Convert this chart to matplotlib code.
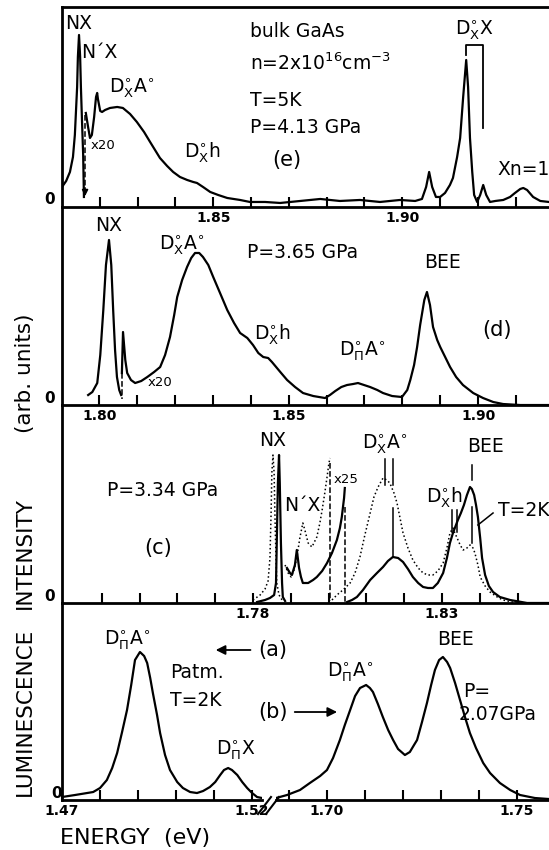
import matplotlib
matplotlib.use('Agg')
import matplotlib.pyplot as plt
from matplotlib.lines import Line2D

plt.rcParams['font.family'] = 'DejaVu Sans'
plt.rcParams['mathtext.default'] = 'regular'

# ---- panel (e): P=4.13 GPa, T=5K ----
e_nx_E = [1.8100, 1.8111, 1.8121, 1.8129, 1.8134, 1.8140, 1.8142, 1.8145, 1.8148, 1.8150, 1.8153, 1.8156, 1.8158]
e_nx_I = [20, 26, 35, 50, 72, 120, 150, 172, 150, 120, 85, 52, 10]
e_x20_E = [1.8163, 1.8169, 1.8174, 1.8179, 1.8185, 1.8190, 1.8193, 1.8195, 1.8201, 1.8206,
           1.8214, 1.8227, 1.8246, 1.8261, 1.8280, 1.8298, 1.8317, 1.8333, 1.8359, 1.8378,
           1.8394, 1.8412, 1.8431, 1.8447, 1.8457, 1.8473, 1.8492, 1.8513, 1.8537, 1.8571,
           1.8597, 1.8637, 1.8677, 1.8730, 1.8783, 1.8835, 1.8888, 1.8941, 1.8994, 1.9034,
           1.9052, 1.9063, 1.9071, 1.9079, 1.9089, 1.9100, 1.9113, 1.9126, 1.9134, 1.9145,
           1.9153, 1.9161, 1.9169, 1.9174, 1.9179, 1.9185, 1.9190, 1.9198, 1.9206, 1.9214,
           1.9222, 1.9232, 1.9246, 1.9267, 1.9285, 1.9298, 1.9312, 1.9320, 1.9330, 1.9346,
           1.9365, 1.9388]
e_x20_I = [94, 80, 69, 72, 90, 110, 114, 108, 96, 95,
           97, 99, 100, 99, 93, 85, 75, 65, 49, 41,
           35, 30, 27, 25, 24, 20, 15, 12, 9, 7,
           5, 5, 4, 6, 8, 6, 7, 5, 7, 6,
           8, 20, 35, 20, 10, 10, 14, 22, 29, 50,
           69, 110, 147, 120, 69, 35, 12, 5, 12, 22,
           12, 5, 6, 7, 10, 14, 18, 19, 17, 10,
           6, 5]

# ---- panel (d): P=3.65 GPa ----
d_nx_E = [1.7971, 1.7982, 1.7995, 1.8003, 1.8011, 1.8018, 1.8026, 1.8032, 1.8037, 1.8042, 1.8047, 1.8053, 1.8058]
d_nx_I = [10, 13, 22, 50, 95, 140, 165, 140, 95, 55, 28, 15, 10]
d_x20_E = [1.8060, 1.8063, 1.8069, 1.8074, 1.8084, 1.8095, 1.8111, 1.8127, 1.8145, 1.8161, 1.8174,
           1.8187, 1.8198, 1.8206, 1.8219, 1.8232, 1.8243, 1.8253, 1.8264, 1.8274, 1.8288,
           1.8301, 1.8319, 1.8338, 1.8356, 1.8372, 1.8391, 1.8406, 1.8420, 1.8433, 1.8446,
           1.8456, 1.8478, 1.8496, 1.8517, 1.8538, 1.8565, 1.8596, 1.8609, 1.8623, 1.8639,
           1.8654, 1.8670, 1.8683, 1.8699, 1.8715, 1.8734, 1.8749, 1.8773, 1.8799, 1.8813,
           1.8821, 1.8831, 1.8839, 1.8847, 1.8858, 1.8865, 1.8873, 1.8881, 1.8892, 1.8900,
           1.8913, 1.8926, 1.8942, 1.8960, 1.8987, 1.9013, 1.9040, 1.9066, 1.9111, 1.9187]
d_x20_I = [32, 73, 45, 32, 25, 22, 24, 28, 33, 38, 50,
           68, 90, 108, 125, 138, 147, 152, 152, 148, 140,
           128, 112, 95, 82, 72, 67, 60, 52, 48, 47,
           43, 33, 25, 18, 12, 9, 7, 10, 14, 18,
           20, 21, 22, 20, 18, 15, 12, 9, 8, 15,
           25, 40, 58, 80, 105, 113, 100, 78, 65, 58,
           48, 38, 28, 20, 12, 7, 3, 1, 0, 0]

# ---- panel (c): P=3.34 GPa, dotted and solid (T=2K) ----
c_dot_nx_E = [1.7800, 1.7819, 1.7832, 1.7840, 1.7845, 1.7848, 1.7850, 1.7853, 1.7856, 1.7858, 1.7861, 1.7863, 1.7869, 1.7877]
c_dot_nx_I = [3, 8, 14, 22, 45, 90, 130, 148, 130, 90, 45, 20, 8, 3]
c_dot_x25_E = [1.7885, 1.7893, 1.7901, 1.7908, 1.7916, 1.7924, 1.7932, 1.7938, 1.7946, 1.7956,
               1.7969, 1.7977, 1.7983, 1.7990, 1.7996, 1.8001, 1.8004]
c_dot_x25_I = [38, 30, 26, 32, 45, 65, 80, 72, 60, 56, 66, 80, 93, 110, 126, 140, 145]
c_dot_E = [1.8009, 1.8022, 1.8038, 1.8057, 1.8070, 1.8083, 1.8096, 1.8110, 1.8120, 1.8131,
           1.8144, 1.8154, 1.8162, 1.8173, 1.8181, 1.8189, 1.8197, 1.8210, 1.8223, 1.8237,
           1.8250, 1.8263, 1.8276, 1.8289, 1.8303, 1.8313, 1.8321, 1.8329, 1.8334, 1.8340,
           1.8348, 1.8356, 1.8366, 1.8374, 1.8382, 1.8387, 1.8395, 1.8401, 1.8414, 1.8427,
           1.8446, 1.8461, 1.8498, 1.8583]
c_dot_I = [3, 8, 13, 20, 30, 46, 68, 90, 106, 116,
           125, 123, 120, 110, 100, 85, 70, 55, 43, 35,
           30, 28, 28, 32, 40, 55, 70, 75, 70, 65,
           58, 53, 55, 58, 55, 50, 38, 26, 17, 11,
           6, 3, 0, 0]
c_sol_nx_E = [1.7811, 1.7832, 1.7845, 1.7856, 1.7861, 1.7863, 1.7866, 1.7869, 1.7871, 1.7874, 1.7877, 1.7879, 1.7885]
c_sol_nx_I = [1, 3, 5, 8, 20, 60, 120, 148, 120, 60, 20, 6, 2]
c_sol_x25_E = [1.7890, 1.7898, 1.7903, 1.7911, 1.7916, 1.7922, 1.7927, 1.7932, 1.7946, 1.7959,
               1.7969, 1.7983, 1.7996, 1.8009, 1.8022, 1.8030, 1.8035, 1.8041, 1.8043]
c_sol_x25_I = [35, 30, 28, 38, 53, 35, 26, 20, 20, 23, 26, 32, 40, 50, 63, 75, 86, 105, 115]
c_sol_E = [1.8049, 1.8062, 1.8075, 1.8091, 1.8110, 1.8128, 1.8144, 1.8157, 1.8170, 1.8184,
           1.8197, 1.8210, 1.8223, 1.8237, 1.8250, 1.8263, 1.8276, 1.8289, 1.8303, 1.8313,
           1.8321, 1.8329, 1.8334, 1.8342, 1.8350, 1.8358, 1.8366, 1.8374, 1.8379, 1.8385,
           1.8390, 1.8395, 1.8401, 1.8406, 1.8414, 1.8424, 1.8435, 1.8453, 1.8480, 1.8525,
           1.8583]
c_sol_I = [1, 3, 6, 13, 23, 30, 36, 42, 46, 45,
           41, 34, 26, 20, 16, 15, 15, 20, 30, 45,
           60, 70, 75, 83, 90, 98, 108, 116, 114, 108,
           98, 86, 65, 45, 28, 17, 11, 6, 3, 0,
           0]

# ---- panel (a): Patm, T=2K ----
a_E = [1.4700, 1.4734, 1.4782, 1.4800, 1.4818, 1.4832, 1.4845, 1.4858, 1.4871, 1.4882,
       1.4892, 1.4905, 1.4916, 1.4924, 1.4932, 1.4939, 1.4950, 1.4958, 1.4971, 1.4984,
       1.5003, 1.5018, 1.5037, 1.5055, 1.5071, 1.5089, 1.5103, 1.5116, 1.5126, 1.5137,
       1.5147, 1.5161, 1.5174, 1.5187, 1.5200, 1.5213, 1.5226]
a_I = [3, 5, 8, 12, 20, 32, 47, 68, 90, 115,
       140, 148, 144, 137, 122, 107, 85, 67, 45, 30,
       18, 12, 8, 7, 9, 13, 18, 25, 30, 32,
       30, 25, 18, 12, 7, 3, 2]

# ---- panel (b): P=2.07 GPa ----
b_E = [1.6866, 1.6895, 1.6929, 1.6955, 1.6982, 1.7000, 1.7016, 1.7034, 1.7047, 1.7061,
       1.7074, 1.7087, 1.7103, 1.7113, 1.7121, 1.7134, 1.7147, 1.7161, 1.7174, 1.7187,
       1.7205, 1.7218, 1.7229, 1.7237, 1.7250, 1.7263, 1.7274, 1.7284, 1.7295, 1.7305,
       1.7316, 1.7324, 1.7337, 1.7350, 1.7363, 1.7376, 1.7392, 1.7411, 1.7429, 1.7455,
       1.7482, 1.7508, 1.7547, 1.7584]
b_I = [2, 5, 10, 17, 24, 30, 42, 60, 75, 90,
       104, 112, 115, 112, 108, 96, 83, 70, 60, 51,
       45, 48, 55, 60, 78, 97, 115, 130, 140, 143,
       138, 132, 117, 100, 83, 67, 52, 37, 27, 17,
       10, 5, 2, 1]

DXA = r'D$^{\circ}_{X}$A$^{\circ}$'
DXh = r'D$^{\circ}_{X}$h'
DXX = r'D$^{\circ}_{X}$X'
DPA = r'D$^{\circ}_{\Pi}$A$^{\circ}$'
DPX = r'D$^{\circ}_{\Pi}$X'

fig = plt.figure(figsize=(5.49, 8.5), dpi=100)
L = 62 / 549
W = 1 - L
ax_e = fig.add_axes([L, 0.7565, W, 0.2353])
ax_d = fig.add_axes([L, 0.5235, W, 0.2330])
ax_c = fig.add_axes([L, 0.2906, W, 0.2329])
ax_a = fig.add_axes([L, 0.0588, 200 / 549, 0.2318])
ax_b = fig.add_axes([276 / 549, 0.0588, 273 / 549, 0.2318])


def frame(ax, xlim, ylim, major, labels, minor, left=True, top=False):
    ax.patch.set_visible(False)
    ax.set_xlim(*xlim)
    ax.set_ylim(*ylim)
    ax.set_yticks([])
    ax.set_xticks(major, labels=labels, fontweight='bold', fontsize=10)
    ax.set_xticks(minor, minor=True)
    ax.tick_params(axis='x', which='both', direction='in', length=7, width=1.5, pad=3)
    for s in ax.spines.values():
        s.set_linewidth(2)
    ax.spines['right'].set_visible(False)
    ax.spines['top'].set_visible(top)
    ax.spines['left'].set_visible(left)
    if left:
        ax.text(-0.025, 0.035, '0', transform=ax.transAxes, ha='center', va='center',
                fontweight='bold', fontsize=11)


FS = 13.5


def lab(ax, x, y, s, size=FS, ha='center', va='center'):
    ax.text(x, y, s, ha=ha, va=va, fontsize=size, clip_on=False)


lw = 1.6
# panel (e)
frame(ax_e, (1.81, 1.9388), (0, 200), [1.85, 1.90], ['1.85', '1.90'],
      [1.82, 1.83, 1.84, 1.86, 1.87, 1.88, 1.89, 1.91, 1.92, 1.93], top=True)
ax_e.plot(e_nx_E, e_nx_I, 'k-', lw=lw)
ax_e.plot(e_x20_E, e_x20_I, 'k-', lw=lw)
ax_e.plot([1.8161, 1.8161], [92, 20], 'k--', lw=1.1)
ax_e.annotate('', xy=(1.8161, 8), xytext=(1.8161, 22),
              arrowprops=dict(arrowstyle='-|>', color='k', lw=1.1, mutation_scale=9))
ax_e.plot([1.9169, 1.9169, 1.9214, 1.9214], [152, 162, 162, 79], 'k-', lw=1.3)
lab(ax_e, 1.8145, 183, 'NX')
lab(ax_e, 1.8198, 154, 'N\u00b4X')
lab(ax_e, 1.8285, 119, DXA)
lab(ax_e, 1.8470, 54, DXh)
lab(ax_e, 1.8208, 61, 'x20', size=9.5)
lab(ax_e, 1.8597, 170, 'bulk GaAs', ha='left', va='baseline')
lab(ax_e, 1.8597, 137, r'n=2x10$^{16}$cm$^{-3}$', ha='left', va='baseline')
lab(ax_e, 1.8597, 101, 'T=5K', ha='left', va='baseline')
lab(ax_e, 1.8597, 74, 'P=4.13 GPa', ha='left', va='baseline')
lab(ax_e, 1.8695, 47, '(e)', size=15)
lab(ax_e, 1.9190, 177, DXX)
lab(ax_e, 1.9320, 37, 'Xn=1')

# panel (d)
frame(ax_d, (1.7902, 1.9187), (0, 198), [1.80, 1.85, 1.90], ['1.80', '1.85', '1.90'],
      [1.81, 1.82, 1.83, 1.84, 1.86, 1.87, 1.88, 1.89, 1.91])
ax_d.plot(d_nx_E, d_nx_I, 'k-', lw=lw)
ax_d.plot(d_x20_E, d_x20_I, 'k-', lw=lw)
ax_d.plot([1.8060, 1.8060], [32, 6], 'k--', lw=1.1)
lab(ax_d, 1.8026, 179, 'NX')
lab(ax_d, 1.8219, 160, DXA)
lab(ax_d, 1.8390, 147, 'P=3.65 GPa', ha='left', va='baseline')
lab(ax_d, 1.8456, 70, DXh)
lab(ax_d, 1.8161, 23, 'x20', size=9.5)
lab(ax_d, 1.8694, 54, DPA)
lab(ax_d, 1.8905, 142, 'BEE')
lab(ax_d, 1.9050, 75, '(d)', size=15)

# panel (c)
frame(ax_c, (1.7295, 1.8583), (0, 198), [1.78, 1.83], ['1.78', '1.83'],
      [1.74, 1.75, 1.76, 1.77, 1.79, 1.80, 1.81, 1.82, 1.84, 1.85])
ax_c.plot(c_dot_nx_E, c_dot_nx_I, 'k:', lw=1.1)
ax_c.plot(c_dot_x25_E, c_dot_x25_I, 'k:', lw=1.1)
ax_c.plot(c_dot_E, c_dot_I, 'k:', lw=1.1)
ax_c.plot(c_sol_nx_E, c_sol_nx_I, 'k-', lw=lw)
ax_c.plot(c_sol_x25_E, c_sol_x25_I, 'k-', lw=lw)
ax_c.plot(c_sol_E, c_sol_I, 'k-', lw=lw)
ax_c.plot([1.8004, 1.8004], [140, 2], 'k--', lw=1.1)
ax_c.plot([1.8043, 1.8043], [96, 1], 'k--', lw=1.1)
for xm, y0, y1 in [(1.8149, 118, 144), (1.8170, 118, 144), (1.8170, 46, 95),
                   (1.8326, 71, 93), (1.8340, 71, 93), (1.8379, 123, 138), (1.8379, 60, 96)]:
    ax_c.plot([xm, xm], [y0, y1], 'k-', lw=1.1)
ax_c.plot([1.8395, 1.8435], [78, 90], 'k-', lw=1.1)
lab(ax_c, 1.7853, 163, 'NX')
lab(ax_c, 1.7930, 98, 'N\u00b4X')
lab(ax_c, 1.8046, 124, 'x25', size=9.5)
lab(ax_c, 1.8149, 159, DXA)
lab(ax_c, 1.8414, 157, 'BEE')
lab(ax_c, 1.8305, 105, DXh)
lab(ax_c, 1.8585, 93, 'T=2K', ha='right')
lab(ax_c, 1.7562, 113, 'P=3.34 GPa')
lab(ax_c, 1.7548, 55, '(c)', size=15)

# panels (a) and (b)
frame(ax_a, (1.47, 1.5226), (0, 197), [1.47, 1.52], ['1.47', '1.52'],
      [1.48, 1.49, 1.50, 1.51])
frame(ax_b, (1.6866, 1.7584), (0, 197), [1.70, 1.75], ['1.70', '1.75'],
      [1.69, 1.71, 1.72, 1.73, 1.74], left=False)
ax_a.plot(a_E, a_I, 'k-', lw=lw)
ax_b.plot(b_E, b_I, 'k-', lw=lw)
lab(ax_a, 1.4871, 160, DPA)
ax_a.annotate('', xy=(1.5097, 150), xytext=(1.5203, 150),
              arrowprops=dict(arrowstyle='-|>', color='k', lw=1.3, mutation_scale=14))
lab(ax_a, 1.5255, 150, '(a)', size=15)
lab(ax_a, 1.4984, 128, 'Patm.', ha='left')
lab(ax_a, 1.4984, 100, 'T=2K', ha='left')
lab(ax_a, 1.5158, 50, DPX)
lab(ax_a, 1.5255, 88, '(b)', size=15)
ax_b.annotate('', xy=(1.7034, 88), xytext=(1.6908, 88),
              arrowprops=dict(arrowstyle='-|>', color='k', lw=1.3, mutation_scale=14))
lab(ax_b, 1.7061, 128, DPA)
lab(ax_b, 1.7337, 160, 'BEE')
lab(ax_b, 1.7358, 109, 'P=', ha='left')
lab(ax_b, 1.7345, 86, '2.07GPa', ha='left')

# axis break marks
for x0 in (258, 266):
    fig.add_artist(Line2D([x0 / 549, (x0 + 13) / 549], [1 - 814 / 850, 1 - 797 / 850],
                          color='k', lw=1.5, transform=fig.transFigure))

# axis titles
fig.text(25 / 549, 1 - 712 / 850, 'LUMINESCENCE', rotation=90, ha='center', va='center', fontsize=15.5)
fig.text(25 / 549, 1 - 553 / 850, 'INTENSITY', rotation=90, ha='center', va='center', fontsize=15.5)
fig.text(25 / 549, 1 - 373 / 850, '(arb. units)', rotation=90, ha='center', va='center', fontsize=15.5)
fig.text(60 / 549, 1 - 838 / 850, 'ENERGY  (eV)', ha='left', va='center', fontsize=16)

fig.savefig('out.png', dpi=100, facecolor='white')
